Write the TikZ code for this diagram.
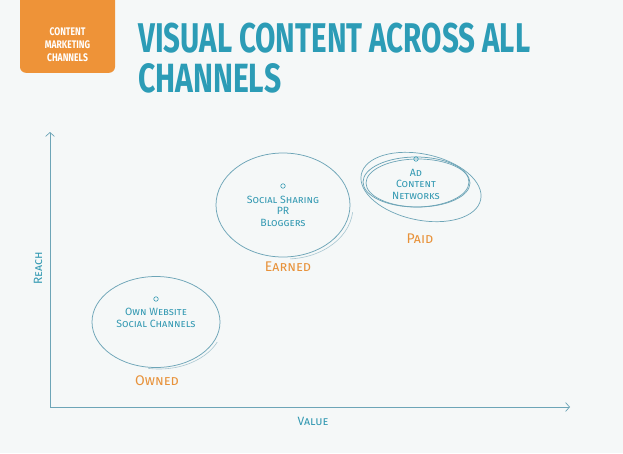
\documentclass[tikz,border=0pt]{standalone}
\usepackage{fontspec}
\usepackage{graphicx}
\setmainfont{Fira Sans}
\newfontfamily\handfont{Fira Sans}[Letters=SmallCaps]
\newfontfamily\condfont{Fira Sans}[FakeStretch=0.78]
\usetikzlibrary{arrows.meta,shapes.geometric}
\definecolor{bg}{HTML}{F5F8F8}
\definecolor{orangebox}{HTML}{EE9338}
\definecolor{titleteal}{HTML}{2C9CB6}
\definecolor{lineteal}{HTML}{6DA5B7}
\definecolor{faintteal}{HTML}{A9C7D1}
\definecolor{textteal}{HTML}{3399B2}
\definecolor{labelorange}{HTML}{E8923A}
\tikzset{
  axisline/.style={draw=lineteal, line width=0.9pt, -{Straight Barb[length=4pt,width=9pt,line width=0.7pt]}},
  bubble/.style={ellipse, draw=lineteal, line width=0.75pt, inner sep=0pt},
  faint/.style={draw=faintteal, line width=0.6pt},
  intext/.style={text=textteal, align=center, inner sep=0pt, font=\handfont\fontsize{10.5}{11.5}\selectfont},
  grouplbl/.style={text=labelorange, inner sep=0pt, font=\handfont\fontsize{14}{15}\selectfont},
  axislbl/.style={text=textteal, inner sep=0pt, font=\handfont\fontsize{12}{13}\selectfont},
  icon/.style={circle, draw=textteal, line width=0.6pt, inner sep=0pt, minimum size=4.5pt},
}
\begin{document}
\begin{tikzpicture}[x=1pt,y=-1pt]
\fill[bg] (0,0) rectangle (623,453);
\useasboundingbox (0,0) rectangle (623,453);
% tag box
\node[fill=orangebox, rounded corners=6pt, minimum width=95pt, minimum height=90pt, anchor=south, inner sep=0pt] (tag) at (67.5,73) {};
\node[text=white, align=center, inner sep=0pt, font=\condfont\bfseries\fontsize{11}{13}\selectfont] (tagtext) at (67.5,45) {CONTENT\\MARKETING\\CHANNELS};
% title
\node[anchor=north west, inner sep=0pt, text=titleteal] (title1) at (138,22.5) {\resizebox{392pt}{29.5pt}{\bfseries VISUAL CONTENT ACROSS ALL}};
\node[anchor=north west, inner sep=0pt, text=titleteal] (title2) at (138,63) {\resizebox{143pt}{29pt}{\bfseries CHANNELS}};
% axes
\coordinate (origin) at (50,407);
\coordinate (ytip) at (50,132);
\coordinate (xtip) at (570,407);
\draw[axisline] (origin) -- (ytip);
\draw[axisline] (origin) -- (xtip);
\node[axislbl, rotate=90] (reach) at (38,268) {Reach};
\node[axislbl] (value) at (313,421) {Value};
% owned
\node[bubble, minimum width=128pt, minimum height=91pt] (owned) at (156,322) {};
\begin{scope}
\clip (148,342) rectangle (235,380);
\draw[faint] (159,323) ellipse [x radius=64pt, y radius=46pt];
\end{scope}
\node[icon] (ownedicon) at (156,299) {};
\node[intext] (ownedtxt) at (156,318) {Own Website\\Social Channels};
\node[grouplbl] (ownedlbl) at (157,381) {Owned};
% earned
\node[bubble, minimum width=134pt, minimum height=104pt] (earned) at (283,205) {};
\begin{scope}
\clip (290,212) rectangle (365,265);
\draw[faint] (286,207) ellipse [x radius=67pt, y radius=52pt];
\end{scope}
\node[icon] (earnedicon) at (283,186) {};
\node[intext] (earnedtxt) at (283,211) {Social Sharing\\PR\\Bloggers};
\node[grouplbl] (earnedlbl) at (288,267) {Earned};
% paid
\node[bubble, minimum width=106pt, minimum height=50pt] (paid) at (416,182) {};
\draw[lineteal, line width=0.7pt] (418,183) ellipse [x radius=52pt, y radius=24pt];
\draw[lineteal, line width=0.7pt, rotate around={-12:(421,187)}] (421,187) ellipse [x radius=61pt, y radius=33pt];
\node[icon] (paidicon) at (416,159) {};
\node[intext] (paidtxt) at (416,184) {Ad\\Content\\Networks};
\node[grouplbl] (paidlbl) at (420,239) {Paid};
\end{tikzpicture}
\end{document}
